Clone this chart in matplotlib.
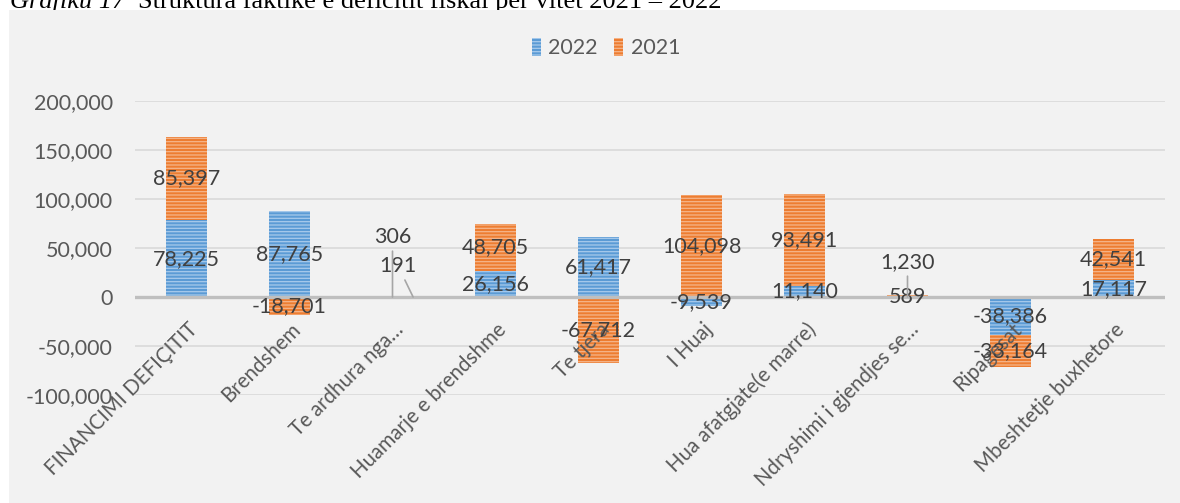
import matplotlib
matplotlib.use("Agg")
import matplotlib.pyplot as plt
import matplotlib.transforms as mtransforms
from matplotlib.patches import Rectangle
import numpy as np

# data
categories = ["FINANCIMI DEFIÇITIT", "Brendshem", "Te ardhura nga…",
              "Huamarje e brendshme", "Te tjera", "I Huaj",
              "Hua afatgjate(e marre)", "Ndryshimi i gjendjes se…",
              "Ripagesat", "Mbeshtetje buxhetore"]
values_2022 = [78225, 87765, 191, 26156, 61417, -9539, 11140, 589, -38386, 17117]
values_2021 = [85397, -18701, 306, 48705, -67712, 104098, 93491, 1230, -33164, 42541]
yticks = [-100000, -50000, 0, 50000, 100000, 150000, 200000]

W, H = 1180, 503
FONT = ['Lato', 'DejaVu Sans']
plt.rcParams['font.family'] = FONT
plt.rcParams['hatch.linewidth'] = 0.9

fig = plt.figure(figsize=(W / 100, H / 100), dpi=100)
fig.patch.set_facecolor('white')

# title, half hidden behind the grey chart area (as in the source)
fig.text(10 / W, 1 - 8 / H, "Grafiku 17", family='Liberation Serif', style='italic',
         size=19, va='baseline', zorder=0.5)
fig.text(138 / W, 1 - 8 / H, "Struktura faktike e deficitit fiskal për vitet 2021 – 2022",
         family='Liberation Serif', size=19, va='baseline', zorder=0.5)
fig.patches.append(Rectangle((9 / W, 0), 1 - 9 / W, 1 - 10 / H, transform=fig.transFigure,
                             facecolor='#F2F2F2', edgecolor='none', zorder=1))

ax = fig.add_axes([135 / W, 1 - 395 / H, 1030 / W, 294 / H])
ax.set_zorder(2)
ax.patch.set_visible(False)

x = np.arange(len(categories))
series = [("2022", values_2022, '#5B9BD5', '#A7CAEB'),
          ("2021", values_2021, '#ED7D31', '#F5B58A')]

# label nudges for the tiny segments: (dx px, dy px, anchor dx data)
nudges = {("2021", 2): (0, 60, 0.0),
          ("2022", 2): (-15, 31, 0.2),
          ("2021", 7): (0, 35, 0.0)}

pos = np.zeros(len(x))
neg = np.zeros(len(x))
for name, vals, face, stripe in series:
    vals = np.array(vals, float)
    bottom = np.where(vals >= 0, pos, neg)
    ax.bar(x, vals, 0.4, bottom=bottom, color=face, edgecolor=stripe, linewidth=0,
           hatch='-----', label=name, zorder=3)
    for i, (b, v) in enumerate(zip(bottom, vals)):
        txt = f"{v:,.0f}"
        if (name, i) in nudges:
            dx, dy, adx = nudges[(name, i)]
            ax.annotate(txt, xy=(i + adx, 0), xytext=(dx, dy), textcoords='offset pixels',
                        ha='center', va='center', fontsize=15.5, color='#404040',
                        arrowprops=dict(arrowstyle='-', color='#A6A6A6', lw=1.2,
                                        shrinkA=1, shrinkB=0),
                        zorder=5)
        else:
            ax.text(i, b + v / 2, txt, ha='center', va='center', fontsize=15.5,
                    color='#404040', zorder=5)
    pos += np.clip(vals, 0, None)
    neg += np.clip(vals, None, 0)

ax.set_xlim(-0.5, len(categories) - 0.5)
ax.set_ylim(-100000, 200000)
ax.set_yticks(yticks, [f"{v:,.0f}" for v in yticks])
ax.yaxis.grid(True, color='#D9D9D9', lw=1.2)
ax.set_axisbelow(True)
ax.axhline(0, color='#BFBFBF', lw=2.4, zorder=4)

for s in ax.spines.values():
    s.set_color('none')
ax.spines['bottom'].set_position(('data', 0))

ax.set_xticks(x, categories, rotation=45, ha='right', va='top', rotation_mode='anchor')
ax.tick_params(axis='both', length=0, labelcolor='#595959')
ax.tick_params(axis='x', pad=16, labelsize=14.8)
ax.tick_params(axis='y', pad=16, labelsize=15.5)
shift = mtransforms.ScaledTranslation(1 / 100, 0, fig.dpi_scale_trans)
for lab in ax.get_xticklabels():
    lab.set_transform(lab.get_transform() + shift)
# category names sit on top of the bars, under the value labels
ax.xaxis.set_zorder(4.5)

leg = ax.legend(loc='center', bbox_to_anchor=(606 / W, 1 - 48 / H),
                bbox_transform=fig.transFigure, ncol=2, frameon=False, fontsize=15.5,
                handlelength=0.42, handleheight=0.9, handletextpad=0.35,
                columnspacing=0.75, labelcolor='#595959')

fig.savefig("out.png", dpi=100)
